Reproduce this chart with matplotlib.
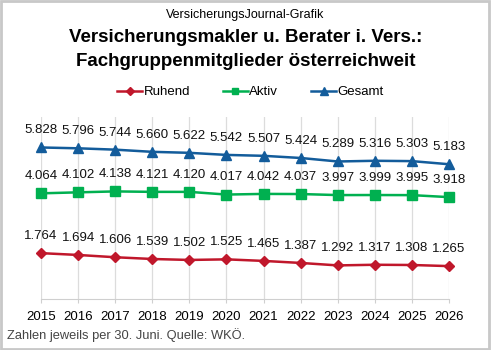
import matplotlib.pyplot as plt
import matplotlib.patches as patches

years = list(range(2015, 2027))
ruhend = [1764, 1694, 1606, 1539, 1502, 1525, 1465, 1387, 1292, 1317, 1308, 1265]
aktiv = [4064, 4102, 4138, 4121, 4120, 4017, 4042, 4037, 3997, 3999, 3995, 3918]
gesamt = [5828, 5796, 5744, 5660, 5622, 5542, 5507, 5424, 5289, 5316, 5303, 5183]

series = [
    ('Ruhend', ruhend, '#C0172B', 'D', 5.5),
    ('Aktiv', aktiv, '#00B050', 's', 6.5),
    ('Gesamt', gesamt, '#135C9B', '^', 7.5),
]


def fmt(v):
    return '{:,}'.format(v).replace(',', '.')


def main():
    plt.rcParams['font.family'] = ['Liberation Sans', 'DejaVu Sans']

    fig = plt.figure(figsize=(4.91, 3.5), dpi=100)
    ax = fig.add_axes([41 / 491, 1 - 299 / 350, (449 - 41) / 491, (299 - 117) / 350])

    # grey frame round the whole picture
    fig.patches.append(patches.Rectangle((0.002, 0.003), 0.994, 0.994, transform=fig.transFigure,
                                         fill=False, edgecolor='#c8c8c8', linewidth=2))

    handles = []
    for name, vals, col, mk, ms in series:
        h, = ax.plot(years, vals, color=col, marker=mk, markersize=ms, linewidth=1.8, label=name,
                     clip_on=False, zorder=3)
        handles.append(h)
        for x, v in zip(years, vals):
            ax.annotate(fmt(v), (x, v), xytext=(0, 8), textcoords='offset points',
                        ha='center', va='bottom', fontsize=9.5, color='#111111')

    ax.set_xlim(2015, 2026)
    ax.set_ylim(0, 7000)
    ax.set_xticks(years)
    ax.set_xticklabels([str(y) for y in years], fontsize=9.5)
    ax.set_yticks([])
    ax.grid(axis='x', color='#dcdcdc', linewidth=0.9)
    for s in ['top', 'left', 'right']:
        ax.spines[s].set_visible(False)
    ax.spines['bottom'].set_color('#cfcfcf')
    ax.tick_params(axis='x', length=3, color='#cfcfcf', pad=6)

    fig.text(0.5, 1 - 15 / 350, 'VersicherungsJournal-Grafik', ha='center', va='center', fontsize=9)
    fig.text(0.5, 1 - 38 / 350, 'Versicherungsmakler u. Berater i. Vers.:', ha='center', va='center',
             fontsize=13.5, fontweight='heavy')
    fig.text(0.5, 1 - 61 / 350, 'Fachgruppenmitglieder österreichweit', ha='center', va='center',
             fontsize=13.5, fontweight='heavy')

    fig.legend(handles=handles, loc='center', bbox_to_anchor=(0.51, 1 - 92 / 350), ncol=3, frameon=False,
               fontsize=9.5, handlelength=1.9, columnspacing=2.5, handletextpad=0.1, markerscale=0.75)

    fig.text(7 / 491, 1 - 335 / 350, 'Zahlen jeweils per 30. Juni. Quelle: WKÖ.', ha='left', va='center',
             fontsize=9.3, color='#444444')

    fig.savefig('out.png', dpi=100)


if __name__ == '__main__':
    main()
